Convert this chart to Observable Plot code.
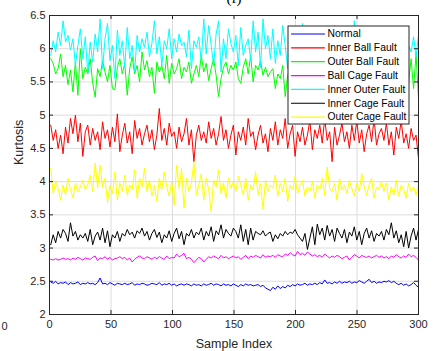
<!DOCTYPE html>
<html><head><meta charset="utf-8">
<script src="https://cdn.jsdelivr.net/npm/d3@7"></script>
<script src="https://cdn.jsdelivr.net/npm/@observablehq/plot@0.6"></script>
<style>
body{margin:0;background:#fff;}
#wrap{position:relative;width:441px;height:351px;overflow:hidden;}
</style>
</head><body><div id="wrap"></div>
<script>
const names = ["Normal","Inner Ball Fault","Outer Ball Fault","Ball Cage Fault","Inner Outer Fault","Inner Cage Fault","Outer Cage Fault"];
const colors = ["#0000ff","#ff0000","#00ff00","#ff00ff","#00ffff","#000000","#ffff00"];
const xTicks = [0,50,100,150,200,250,300];
const yTicks = [2,2.5,3,3.5,4,4.5,5,5.5,6,6.5];

const normal = [2.49,2.47,2.50,2.46,2.48,2.47,2.49,2.45,2.48,2.46,2.47,2.49,2.45,2.47,2.46,
2.48,2.46,2.47,2.45,2.48,2.55,2.46,2.47,2.45,2.48,2.46,2.44,2.47,2.46,2.45,
2.47,2.45,2.46,2.48,2.44,2.46,2.45,2.47,2.46,2.44,2.45,2.47,2.46,2.45,2.48,
2.44,2.46,2.45,2.47,2.44,2.46,2.43,2.45,2.46,2.44,2.46,2.45,2.43,2.46,2.44,
2.45,2.43,2.46,2.44,2.45,2.47,2.44,2.46,2.45,2.43,2.46,2.44,2.45,2.43,2.46,
2.44,2.42,2.45,2.43,2.46,2.44,2.45,2.43,2.44,2.45,2.42,2.44,2.40,2.38,2.36,
2.41,2.38,2.43,2.39,2.42,2.40,2.44,2.42,2.45,2.43,2.46,2.44,2.45,2.47,2.44,
2.46,2.45,2.47,2.45,2.48,2.46,2.52,2.47,2.48,2.46,2.49,2.47,2.50,2.47,2.49,
2.48,2.50,2.47,2.49,2.48,2.51,2.49,2.47,2.50,2.53,2.48,2.50,2.47,2.49,2.48,
2.50,2.49,2.51,2.48,2.50,2.47,2.45,2.47,2.44,2.46,2.43,2.45,2.48,2.44,2.41];

const innerBall = [4.85,4.62,4.78,4.50,4.70,4.42,4.82,4.58,4.95,4.72,5.00,4.60,4.88,4.38,4.75,
4.85,4.55,4.80,4.62,4.75,4.48,4.90,4.65,4.78,4.52,4.82,4.60,5.02,4.45,4.70,
4.88,4.58,4.75,4.42,4.92,4.65,4.80,4.55,4.72,4.85,4.60,4.78,4.48,4.70,5.10,
4.62,4.80,4.55,4.88,4.68,4.75,4.50,4.82,4.60,4.72,4.95,4.55,4.78,4.30,4.70,
4.85,4.62,4.75,4.58,4.90,4.65,4.80,4.55,4.72,4.98,4.62,4.78,4.50,4.70,4.85,
4.40,4.75,4.62,4.82,4.55,4.95,4.68,4.75,4.48,4.70,4.85,4.58,4.72,4.45,4.80,
4.62,4.90,4.55,4.78,4.65,4.95,4.50,4.72,4.85,4.38,4.75,4.60,4.82,4.55,4.70,
4.92,4.48,4.78,4.65,4.85,4.58,4.95,4.62,4.75,4.30,4.82,4.55,4.70,4.88,4.60,
4.75,4.50,4.85,4.62,4.92,4.58,4.78,4.45,4.72,4.85,4.60,4.95,4.55,4.72,4.80,
4.62,4.88,4.55,4.75,4.40,4.82,4.65,4.92,4.58,4.72,4.50,4.80,4.62,4.70,4.35];

const outerBall = [5.85,5.78,5.62,5.70,5.92,5.58,5.75,5.46,5.68,5.35,5.80,5.30,6.00,5.55,5.72,
5.62,5.85,5.48,5.27,5.70,5.58,5.82,5.65,5.50,5.75,5.40,5.38,5.72,5.85,5.62,
5.78,5.30,5.70,5.88,5.62,5.75,5.50,5.95,5.68,5.82,5.58,5.72,5.33,5.80,5.65,
5.75,5.55,5.90,5.48,5.78,5.62,5.70,5.85,5.55,5.72,5.65,5.80,5.48,5.62,5.75,
5.58,5.90,5.65,5.78,5.52,5.70,5.85,5.60,5.28,5.55,5.72,5.80,5.62,5.75,5.68,
5.80,5.55,5.48,5.72,5.85,5.62,5.90,5.50,5.75,5.68,5.82,5.60,5.72,5.58,5.65,
5.70,5.40,5.62,5.55,5.75,5.28,5.60,5.72,5.50,5.85,5.38,5.65,5.78,5.60,5.72,
5.55,5.68,5.82,5.50,5.70,5.62,5.78,5.52,5.68,5.85,5.60,5.75,5.55,5.70,5.65,
5.72,5.58,5.80,5.62,5.70,5.55,5.82,5.65,5.75,5.60,5.85,5.68,5.72,5.58,5.78,
5.62,5.75,5.55,5.82,5.68,5.72,5.58,5.80,5.65,5.88,5.50,5.85,5.40,5.92,5.25];

const ballCage = [2.83,2.82,2.84,2.82,2.83,2.85,2.83,2.84,2.82,2.85,2.83,2.86,2.84,2.82,2.85,
2.84,2.83,2.86,2.88,2.81,2.85,2.84,2.87,2.83,2.86,2.82,2.84,2.85,2.87,2.84,
2.86,2.82,2.85,2.79,2.83,2.86,2.88,2.85,2.84,2.87,2.85,2.83,2.86,2.84,2.87,
2.85,2.83,2.88,2.84,2.86,2.85,2.91,2.87,2.89,2.92,2.84,2.86,2.83,2.78,2.82,
2.86,2.84,2.79,2.83,2.87,2.85,2.88,2.86,2.84,2.89,2.85,2.87,2.84,2.86,2.88,
2.85,2.87,2.83,2.86,2.89,2.84,2.88,2.86,2.89,2.87,2.85,2.90,2.86,2.88,2.87,
2.89,2.86,2.90,2.88,2.87,2.91,2.89,2.93,2.90,2.88,2.95,2.90,2.92,2.89,2.94,
2.91,2.88,2.90,2.87,2.89,2.86,2.91,2.88,2.85,2.88,2.86,2.89,2.87,2.84,2.86,
2.88,2.82,2.86,2.90,2.88,2.85,2.89,2.87,2.86,2.88,2.85,2.87,2.89,2.86,2.88,
2.85,2.87,2.84,2.88,2.86,2.90,2.87,2.85,2.88,2.86,2.91,2.87,2.89,2.86,2.82];

const innerOuter = [5.90,6.12,5.95,6.25,6.05,6.42,6.10,6.20,5.98,6.15,5.75,6.05,6.30,5.85,6.18,
5.62,6.10,5.80,6.22,5.95,6.45,5.70,6.15,6.38,5.82,6.05,5.55,6.28,5.90,6.12,
5.72,6.32,5.85,6.05,5.65,6.20,5.95,6.15,6.02,6.25,5.88,6.08,6.42,5.92,6.18,
5.75,6.12,6.00,6.30,5.85,6.15,5.95,6.22,6.05,6.10,5.88,6.28,5.70,6.12,6.02,
6.18,5.80,6.45,5.92,6.35,6.05,5.75,6.22,6.42,5.65,6.15,5.85,6.30,6.08,5.95,
6.20,5.75,6.32,5.90,6.05,6.15,5.82,6.42,5.95,6.25,5.72,6.45,6.00,6.20,5.85,
6.30,5.78,6.12,5.90,6.35,6.05,5.70,6.18,5.92,6.28,5.65,6.05,6.38,5.85,6.15,
6.00,6.22,5.80,6.32,5.95,6.10,5.75,6.25,6.05,5.88,6.35,5.92,6.18,5.72,6.12,
6.02,6.28,5.85,6.42,5.95,6.18,5.80,6.30,6.05,5.90,6.25,5.75,6.12,6.00,6.20,
5.88,6.15,5.95,6.32,5.80,6.10,6.02,5.92,6.25,5.85,6.05,5.95,6.18,5.88,6.20];

const innerCage = [3.05,3.20,3.08,3.25,3.15,3.28,3.22,3.10,3.38,3.18,3.25,3.12,3.20,3.15,3.22,
3.10,3.28,3.05,3.18,3.24,3.12,3.30,3.08,3.26,3.02,3.20,3.15,3.25,3.10,3.22,
3.18,3.28,3.20,3.24,3.15,3.26,3.22,3.30,3.18,3.25,3.12,3.22,3.28,3.16,3.24,
3.08,3.20,3.15,3.26,3.10,3.22,3.30,3.14,3.25,3.05,3.22,3.18,3.28,3.15,3.24,
3.20,3.30,3.12,3.25,3.18,3.32,3.10,3.26,3.20,3.35,3.15,3.28,3.22,3.18,3.30,
3.25,3.15,3.35,3.10,3.28,3.05,3.30,3.12,3.25,3.22,3.20,3.26,3.18,3.22,3.24,
3.10,3.20,3.14,3.22,3.18,3.25,3.20,3.24,3.22,3.28,3.20,3.15,3.10,3.22,2.98,
3.15,3.32,3.05,3.36,3.20,3.30,3.12,3.34,3.18,3.28,3.10,3.30,3.22,3.15,3.28,
3.08,3.24,3.18,3.32,3.12,3.25,3.05,3.22,3.30,3.15,3.26,3.10,3.22,3.18,3.25,
3.12,3.28,3.20,3.38,3.15,3.26,3.08,3.20,3.02,3.25,3.00,3.18,3.30,3.12,3.28];

const outerCage = [4.20,3.82,4.00,3.90,3.72,3.95,3.80,4.05,3.88,3.75,3.98,3.85,3.92,4.02,3.88,
3.95,4.10,3.85,4.28,3.90,4.25,3.92,4.05,3.68,3.95,3.82,4.15,3.72,3.98,3.85,
4.10,3.80,3.95,3.88,4.18,3.75,4.05,3.92,4.20,3.85,4.02,3.78,3.95,3.70,4.05,
3.88,4.15,3.92,3.78,4.00,3.65,4.25,3.90,4.20,3.60,4.05,3.85,3.98,4.30,3.80,
3.95,4.12,3.72,4.05,3.88,3.55,4.02,3.92,4.18,3.82,3.98,3.75,4.05,3.90,4.00,
3.85,4.08,3.95,3.80,4.05,3.72,3.95,3.88,4.15,3.80,3.98,3.58,4.02,3.85,3.95,
3.90,4.10,3.78,3.98,3.85,4.05,3.70,3.95,3.88,4.08,3.82,3.95,4.02,3.78,3.92,
3.85,4.00,3.75,3.95,3.88,4.05,3.80,4.22,3.90,3.85,3.98,3.72,4.05,3.88,3.95,
3.82,4.02,3.90,3.78,3.98,3.85,4.12,3.92,3.80,3.95,4.05,3.75,3.92,3.88,4.00,
3.85,3.98,3.72,3.92,3.80,4.02,3.78,3.95,3.88,3.75,3.98,3.85,3.92,3.80,3.95];

const seriesValues = [normal, innerBall, outerBall, ballCage, innerOuter, innerCage, outerCage];
const n = normal.length;
const xs = d3.range(n).map(i => 1 + i * 299 / (n - 1));
const table = seriesValues.flatMap((vals, s) => vals.map((v, i) => ({x: xs[i], y: v, name: names[s]})));

const W = 441, H = 351, mL = 49, mR = 23, mT = 15, mB = 37;
const fw = W - mL - mR, fh = H - mT - mB;
const ink = "#262626";
const font = "'Liberation Sans', Arial, sans-serif";

// legend box geometry (pixels, relative to the frame)
const lgLeft = 287.5 - mL, lgTop = 25.5 - mT, lgRight = (W - mR) - 408.5, lgBottom = (H - mB) - 123.5;
const lineShape = {draw(context, l) { context.moveTo(0, 0); context.lineTo(0, -l); }};
const legendMarks = names.flatMap((nm, i) => {
  const cy = 33.5 + i * 13.85 - mT;
  return [
    Plot.vector([nm], {frameAnchor: "top-left", dx: 291 - mL, dy: cy, length: 33, rotate: 90, anchor: "start", shape: lineShape, stroke: colors[i], strokeWidth: 1.2}),
    Plot.text([nm], {frameAnchor: "top-left", dx: 327 - mL, dy: cy, text: d => d, textAnchor: "start", lineAnchor: "middle", fontSize: 10.3, fill: "#000"})
  ];
});

const chart = Plot.plot({
  width: W, height: H,
  marginLeft: mL, marginRight: mR, marginTop: mT, marginBottom: mB,
  style: {fontFamily: font, background: "#fff", color: ink},
  x: {domain: [0, 300], ticks: xTicks},
  y: {domain: [2, 6.5], ticks: yTicks},
  color: {domain: names, range: colors},
  marks: [
    Plot.gridX(xTicks, {stroke: "#dcdcdc", strokeOpacity: 1}),
    Plot.gridY(yTicks, {stroke: "#dcdcdc", strokeOpacity: 1}),
    Plot.line(table, {x: "x", y: "y", z: "name", stroke: "name", strokeWidth: 1}),
    Plot.frame({stroke: ink}),
    Plot.tickY(yTicks, {y: d => d, stroke: ink, insetRight: fw - 4}),
    Plot.tickY(yTicks, {y: d => d, stroke: ink, insetLeft: fw - 4}),
    Plot.tickX(xTicks, {x: d => d, stroke: ink, insetBottom: fh - 4}),
    Plot.tickX(xTicks, {x: d => d, stroke: ink, insetTop: fh - 4}),
    Plot.axisX(xTicks, {tickSize: 0, tickPadding: 6, fontSize: 11, label: null, fill: ink}),
    Plot.axisY(yTicks, {tickSize: 0, tickPadding: 4, fontSize: 11, label: null, fill: ink, tickFormat: d => String(d)}),
    Plot.text(["Sample Index"], {frameAnchor: "bottom", dy: 29, text: d => d, fontSize: 12.5, fill: ink, lineAnchor: "middle"}),
    Plot.text(["Kurtosis"], {frameAnchor: "left", dx: -31, rotate: -90, text: d => d, fontSize: 12.5, fill: ink, lineAnchor: "middle"}),
    Plot.text(["(f)"], {frameAnchor: "top", dy: -13, text: d => d, fontSize: 15, fill: "#000", fontFamily: "'Liberation Serif', serif", lineAnchor: "bottom"}),
    Plot.text(["0"], {frameAnchor: "bottom-left", dx: -48, dy: 12, text: d => d, fontSize: 11, fill: ink, lineAnchor: "middle"}),
    Plot.frame({fill: "#fff", stroke: ink, insetLeft: lgLeft, insetTop: lgTop, insetRight: lgRight, insetBottom: lgBottom}),
    ...legendMarks
  ]
});

document.getElementById("wrap").appendChild(chart);
</script>
</body></html>
